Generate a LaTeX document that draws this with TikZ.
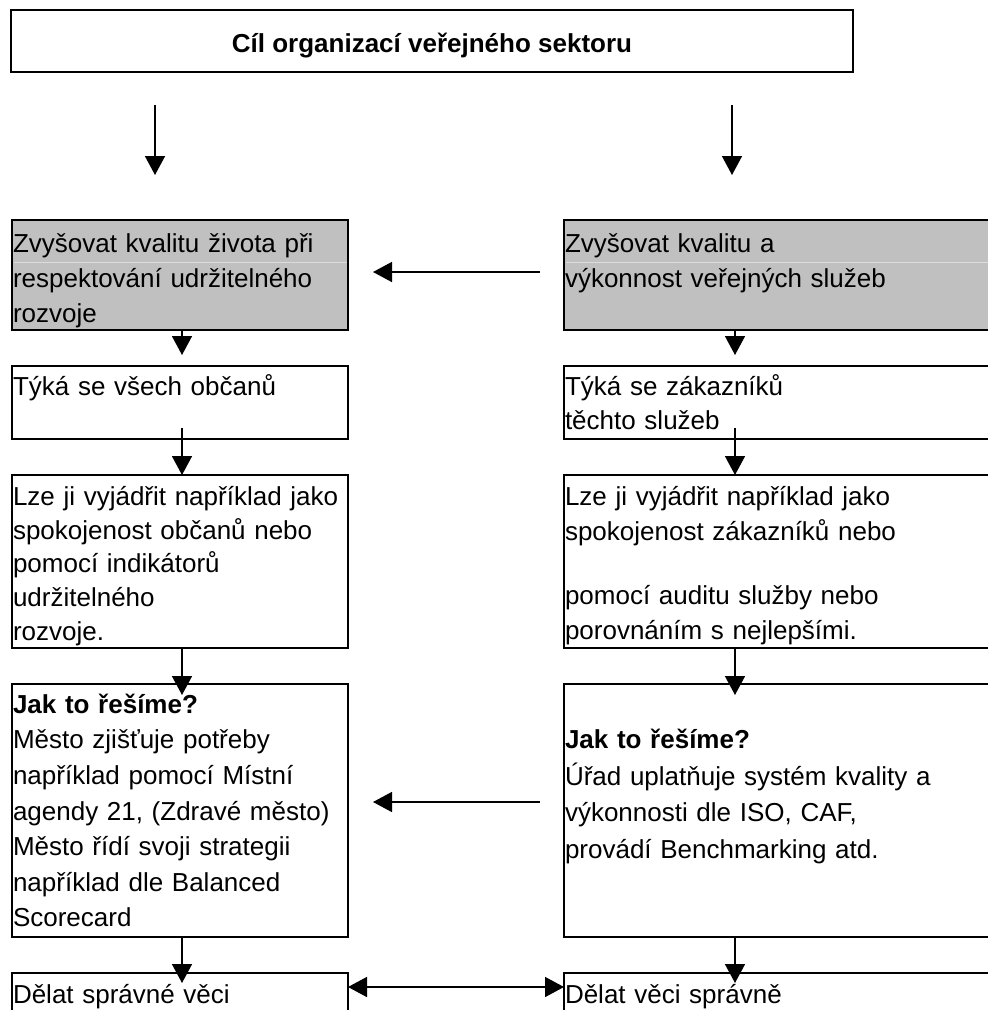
\documentclass[tikz,border=0pt]{standalone}
\usepackage{fontspec}
\setmainfont{Liberation Sans}
\usetikzlibrary{arrows.meta,calc}
\definecolor{boxgray}{HTML}{C0C0C0}
\definecolor{seamgray}{HTML}{DCDCDC}
\newcommand\myfs[1]{\fontsize{26}{#1}\selectfont}
\newcommand\firstline{\rule{0pt}{25pt}}
\begin{document}
\begin{tikzpicture}[x=1pt,y=-1pt,
  box/.style={draw=black, line width=2.3pt, anchor=north west, inner sep=0pt, outer sep=0pt, minimum width=#1},
  boxh/.style={minimum height=#1},
  txt/.style={anchor=north west, inner sep=0pt, outer sep=0pt, text width=420pt, align=left},
  arr/.style={line width=1.5pt, -{Triangle[length=19pt,width=20pt]}},
  dblarr/.style={line width=1.5pt, {Triangle[length=19pt,width=20pt]}-{Triangle[length=19pt,width=20pt]}},
  seam/.style={draw=seamgray, line width=0.8pt}]
\useasboundingbox (0,0) rectangle (988,1010);
\clip (0,0) rectangle (988,1010);
\fill[white] (0,0) rectangle (988,1010);

% boxes
\node[box=842pt, boxh=62pt, line width=2.7pt] (top) at (11,10) {};
\node[box=336pt, boxh=110pt, fill=boxgray] (gl) at (12,220) {};
\node[box=450pt, boxh=110pt, fill=boxgray] (gr) at (564,220) {};
\node[box=336pt, boxh=73pt] (tl) at (12,366) {};
\node[box=450pt, boxh=73pt] (tr) at (564,366) {};
\node[box=336pt, boxh=173pt] (ll) at (12,475) {};
\node[box=450pt, boxh=173pt] (lr) at (564,475) {};
\node[box=336pt, boxh=253pt] (jl) at (12,684) {};
\node[box=450pt, boxh=253pt] (jr) at (564,684) {};
\node[box=336pt, boxh=120pt] (dl) at (12,973) {};
\node[box=450pt, boxh=120pt] (dr) at (564,973) {};

% seams in the gray boxes
\draw[seam] ($(gl.north west)+(1.5,42)$) -- ($(gl.north east)+(-1.5,42)$);
\draw[seam] ($(gr.north west)+(1.5,42)$) -- ($(gr.north east)+(-1.5,42)$);

% texts
\node[anchor=base, inner sep=0pt, font=\myfs{30}\bfseries] (title) at (432,52) {Cíl organizací veřejného sektoru};
\node[txt, font=\myfs{35}] (glt) at (13,227) {\firstline Zvyšovat kvalitu života při\\respektování udržitelného\\rozvoje};
\node[txt, font=\myfs{35}] (grt) at (565,227) {\firstline Zvyšovat kvalitu a\\výkonnost veřejných služeb};
\node[txt, font=\myfs{34}] (tlt) at (13,370) {\firstline Týká se všech občanů};
\node[txt, font=\myfs{34}] (trt) at (565,370) {\firstline Týká se zákazníků\\těchto služeb};
\node[txt, font=\myfs{33.6}] (llt) at (13,480.7) {\firstline Lze ji vyjádřit například jako\\spokojenost občanů nebo\\pomocí indikátorů\\udržitelného\\rozvoje.};
\node[txt, font=\myfs{35}] (lrt) at (565,480.7) {\firstline Lze ji vyjádřit například jako\\spokojenost zákazníků nebo\\[28.3pt]pomocí auditu služby nebo\\porovnáním s nejlepšími.};
\node[txt, font=\myfs{35.6}] (jlt) at (13,688.3) {\firstline\textbf{Jak to řešíme?}\\Město zjišťuje potřeby\\například pomocí Místní\\agendy 21, (Zdravé město)\\Město řídí svoji strategii\\například dle Balanced\\Scorecard};
\node[txt, font=\myfs{36.7}] (jrt) at (565,723.3) {\firstline\textbf{Jak to řešíme?}\\Úřad uplatňuje systém kvality a\\výkonnosti dle ISO, CAF,\\provádí Benchmarking atd.};
\node[txt, font=\myfs{35}] (dlt) at (13,978.3) {\firstline Dělat správné věci};
\node[txt, font=\myfs{35}] (drt) at (565,978.3) {\firstline Dělat věci správně};

% connectors
\draw[arr] ($(top.south west)+(144,33)$) -- ($(gl.north west)+(143,-45)$);
\draw[arr] ($(top.south west)+(721,33)$) -- ($(gr.north west)+(168,-45)$);
\draw[arr] ($(gr.west)+(-24,-3)$) -- ($(gl.east)+(25,-3)$);
\draw[arr] ($(gl.south west)+(170,0)$) -- ($(tl.north west)+(170,-11)$);
\draw[arr] ($(gr.south west)+(171,0)$) -- ($(tr.north west)+(171,-11)$);
\draw[arr] ($(tl.south west)+(170,-11)$) -- ($(ll.north west)+(170,0)$);
\draw[arr] ($(tr.south west)+(171,-11)$) -- ($(lr.north west)+(171,0)$);
\draw[arr] ($(ll.south west)+(170,0)$) -- ($(jl.north west)+(170,11)$);
\draw[arr] ($(lr.south west)+(171,0)$) -- ($(jr.north west)+(171,11)$);
\draw[arr] ($(jr.north west)+(-24,118)$) -- ($(jl.north east)+(25,118)$);
\draw[arr] ($(jl.south west)+(170,0)$) -- ($(dl.north west)+(170,10)$);
\draw[arr] ($(jr.south west)+(171,0)$) -- ($(dr.north west)+(171,10)$);
\draw[dblarr] ($(dl.north east)+(0,14)$) -- ($(dr.north west)+(0,14)$);
\end{tikzpicture}
\end{document}
